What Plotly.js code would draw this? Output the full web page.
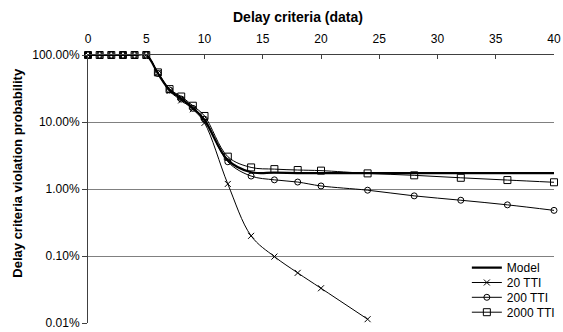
<!DOCTYPE html>
<html>
<head>
<meta charset="utf-8">
<script src="https://cdn.plot.ly/plotly-3.0.1.min.js"></script>
<style>html,body{margin:0;padding:0;background:#fff;}#chart{width:563px;height:332px;}</style>
</head>
<body>
<div id="chart"></div>
<script>
// Delay criteria (x) values
var delayX = [0,1,2,3,4,5,6,7,8,9,10,12,14,16,18,20,24,28,32,36,40];
var delayX20 = [0,1,2,3,4,5,6,7,8,9,10,12,14,16,18,20,24];
// violation probability (fraction)
var modelP = [1,1,1,1,1,1,0.53,0.30,0.225,0.163,0.107,0.027,0.0178,0.0175,0.0173,0.0173,0.0173,0.0173,0.0173,0.0173,0.0173];
var tti20P = [1,1,1,1,1,1,0.54,0.29,0.21,0.155,0.097,0.0119,0.0020,0.00098,0.00056,0.00033,0.000114];
var tti200P = [1,1,1,1,1,1,0.53,0.30,0.22,0.16,0.11,0.0255,0.0156,0.0137,0.0127,0.0111,0.0096,0.0079,0.0068,0.0058,0.0048];
var tti2000P = [1,1,1,1,1,1,0.55,0.31,0.24,0.175,0.123,0.0304,0.021,0.0198,0.0192,0.0188,0.0171,0.0160,0.0147,0.0136,0.0126];
var seriesNames = ["Model","20 TTI","200 TTI","2000 TTI"];
var xTicks = [0,5,10,15,20,25,30,35,40];
var yTickVals = [0.0001,0.001,0.01,0.1,1];
var yTickText = ["0.01%","0.10%","1.00%","10.00%","100.00%"];

var F = "Liberation Sans, Arial, sans-serif";
var traces = [
  {x: delayX, y: modelP, name: seriesNames[0], mode: "lines", legend: "legend",
   line: {color: "#000", width: 2.2, shape: "spline"}, cliponaxis: false},
  {x: delayX20, y: tti20P, name: seriesNames[1], mode: "lines+markers", legend: "legend2",
   line: {color: "#000", width: 1, shape: "spline"},
   marker: {symbol: "x-thin-open", size: 6, color: "#000", line: {color: "#000", width: 1}}, cliponaxis: false},
  {x: delayX, y: tti200P, name: seriesNames[2], mode: "lines+markers", legend: "legend3",
   line: {color: "#000", width: 1, shape: "spline"},
   marker: {symbol: "circle-open", size: 6, color: "#000", line: {color: "#000", width: 1}}, cliponaxis: false},
  {x: delayX, y: tti2000P, name: seriesNames[3], mode: "lines+markers", legend: "legend4",
   line: {color: "#000", width: 1, shape: "spline"},
   marker: {symbol: "square-open", size: 7, color: "#000", line: {color: "#000", width: 1}}, cliponaxis: false}
];

function leg(ypix) {
  return {x: 0.813, xanchor: "left", y: (323 - ypix) / 268, yanchor: "middle",
          bgcolor: "rgba(255,255,255,0)", font: {family: F, size: 12, color: "#000"},
          itemwidth: 30, borderwidth: 0};
}

var layout = {
  width: 563, height: 332,
  margin: {l: 88, r: 9, t: 55, b: 9, pad: 0, autoexpand: false},
  paper_bgcolor: "#fff", plot_bgcolor: "#fff",
  font: {family: F, size: 12, color: "#000"},
  showlegend: true,
  legend: leg(267.7), legend2: leg(282.5), legend3: leg(297.3), legend4: leg(312.2),
  xaxis: {range: [0, 40], side: "top", tickvals: xTicks, ticks: "inside", ticklen: 4,
          tickcolor: "#404040", showline: true, linecolor: "#404040", linewidth: 1,
          ticklabelstandoff: 6, automargin: false,
          showgrid: false, zeroline: false, tickfont: {family: F, size: 12, color: "#000"}},
  yaxis: {type: "log", range: [-4, 0], tickvals: yTickVals, ticktext: yTickText, automargin: false,
          ticks: "outside", ticklen: 5, tickcolor: "#404040", showline: true, linecolor: "#404040",
          linewidth: 1, showgrid: true, gridcolor: "#808080", gridwidth: 1, zeroline: false,
          tickfont: {family: F, size: 12, color: "#000"}},
  annotations: [
    {text: "<b>Delay criteria (data)</b>", xref: "paper", yref: "paper", x: 0.4506, y: 1.14,
     xanchor: "center", yanchor: "middle", showarrow: false, font: {family: F, size: 14, color: "#000"}},
    {text: "<b>Delay criteria violation probability</b>", xref: "paper", yref: "paper", x: -0.152, y: 0.5616,
     xanchor: "center", yanchor: "middle", textangle: -90, showarrow: false, font: {family: F, size: 13, color: "#000"}}
  ]
};
Plotly.newPlot("chart", traces, layout, {displayModeBar: false, staticPlot: true});
</script>
</body>
</html>
